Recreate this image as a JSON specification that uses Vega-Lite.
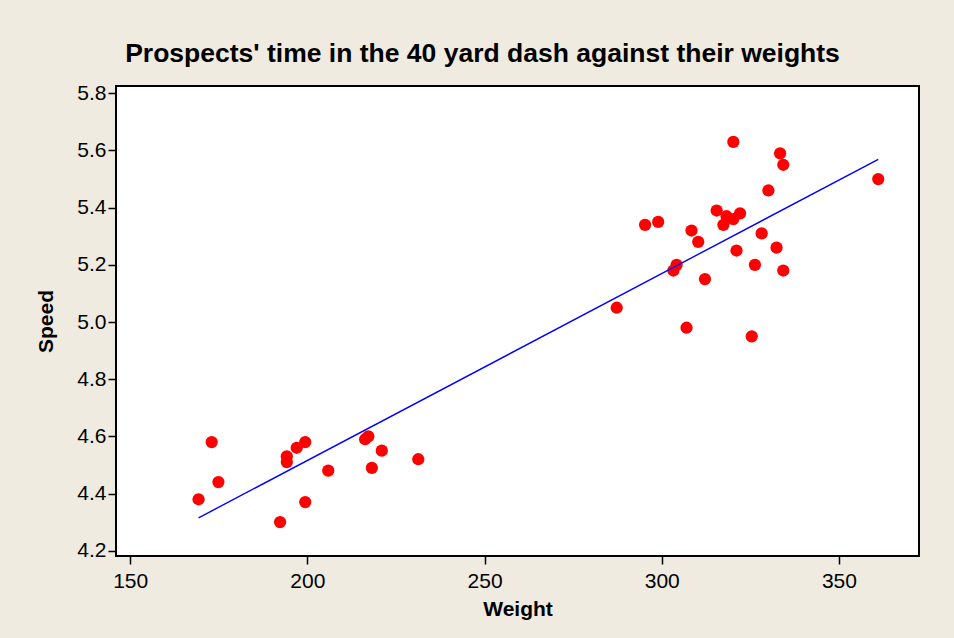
{
  "$schema": "https://vega.github.io/schema/vega-lite/v6.json",
  "width": 803,
  "height": 470,
  "autosize": {"type": "none"},
  "padding": {"left": 116, "top": 86, "right": 35, "bottom": 82},
  "background": "#EFEBE1",
  "view": {"fill": "white", "stroke": "black", "strokeWidth": 2},
  "title": {
    "text": "Prospects' time in the 40 yard dash against their weights",
    "font": "Liberation Sans",
    "fontSize": 26.5,
    "fontWeight": "bold",
    "color": "black",
    "anchor": "middle",
    "baseline": "alphabetic",
    "dx": -35,
    "offset": -6
  },
  "data": {
    "values": [
      {"Weight": 169.3, "Speed": 4.38},
      {"Weight": 173.0, "Speed": 4.58},
      {"Weight": 174.9, "Speed": 4.44},
      {"Weight": 192.3, "Speed": 4.30},
      {"Weight": 194.2, "Speed": 4.53},
      {"Weight": 194.2, "Speed": 4.51},
      {"Weight": 197.0, "Speed": 4.56},
      {"Weight": 199.4, "Speed": 4.58},
      {"Weight": 199.4, "Speed": 4.37},
      {"Weight": 205.9, "Speed": 4.48},
      {"Weight": 216.3, "Speed": 4.59},
      {"Weight": 217.2, "Speed": 4.60},
      {"Weight": 221.0, "Speed": 4.55},
      {"Weight": 218.2, "Speed": 4.49},
      {"Weight": 231.3, "Speed": 4.52},
      {"Weight": 320.2, "Speed": 5.63},
      {"Weight": 333.4, "Speed": 5.59},
      {"Weight": 334.3, "Speed": 5.55},
      {"Weight": 361.1, "Speed": 5.50},
      {"Weight": 330.1, "Speed": 5.46},
      {"Weight": 315.5, "Speed": 5.39},
      {"Weight": 318.3, "Speed": 5.37},
      {"Weight": 322.1, "Speed": 5.38},
      {"Weight": 320.2, "Speed": 5.36},
      {"Weight": 317.4, "Speed": 5.34},
      {"Weight": 295.3, "Speed": 5.34},
      {"Weight": 299.0, "Speed": 5.35},
      {"Weight": 308.4, "Speed": 5.32},
      {"Weight": 310.3, "Speed": 5.28},
      {"Weight": 328.2, "Speed": 5.31},
      {"Weight": 321.1, "Speed": 5.25},
      {"Weight": 332.4, "Speed": 5.26},
      {"Weight": 304.2, "Speed": 5.20},
      {"Weight": 303.3, "Speed": 5.18},
      {"Weight": 326.3, "Speed": 5.20},
      {"Weight": 334.3, "Speed": 5.18},
      {"Weight": 312.2, "Speed": 5.15},
      {"Weight": 287.3, "Speed": 5.05},
      {"Weight": 307.0, "Speed": 4.98},
      {"Weight": 325.4, "Speed": 4.95}
    ]
  },
  "layer": [
    {
      "mark": {"type": "circle", "size": 150, "color": "#FF0000", "opacity": 1},
      "encoding": {
        "x": {
          "field": "Weight",
          "type": "quantitative",
          "scale": {"domain": [146, 372.6], "nice": false, "zero": false},
          "axis": {"values": [150, 200, 250, 300, 350], "title": "Weight", "labelPadding": 6, "titlePadding": 7}
        },
        "y": {
          "field": "Speed",
          "type": "quantitative",
          "scale": {"domain": [4.1815, 5.8255], "nice": false, "zero": false},
          "axis": {"values": [4.2, 4.4, 4.6, 4.8, 5.0, 5.2, 5.4, 5.6, 5.8], "format": ".1f", "title": "Speed", "labelPadding": 2, "titlePadding": 20}
        }
      }
    },
    {
      "transform": [{"regression": "Speed", "on": "Weight"}],
      "mark": {"type": "line", "color": "#0000FF", "strokeWidth": 1.4},
      "encoding": {
        "x": {"field": "Weight", "type": "quantitative"},
        "y": {"field": "Speed", "type": "quantitative"}
      }
    }
  ],
  "config": {
    "axis": {
      "labelFont": "Liberation Sans",
      "labelFontSize": 21,
      "labelColor": "black",
      "titleFont": "Liberation Sans",
      "titleFontSize": 21,
      "titleFontWeight": "bold",
      "titleColor": "black",
      "tickColor": "black",
      "tickSize": 8,
      "tickWidth": 1.5,
      "domain": false,
      "grid": false
    }
  }
}
